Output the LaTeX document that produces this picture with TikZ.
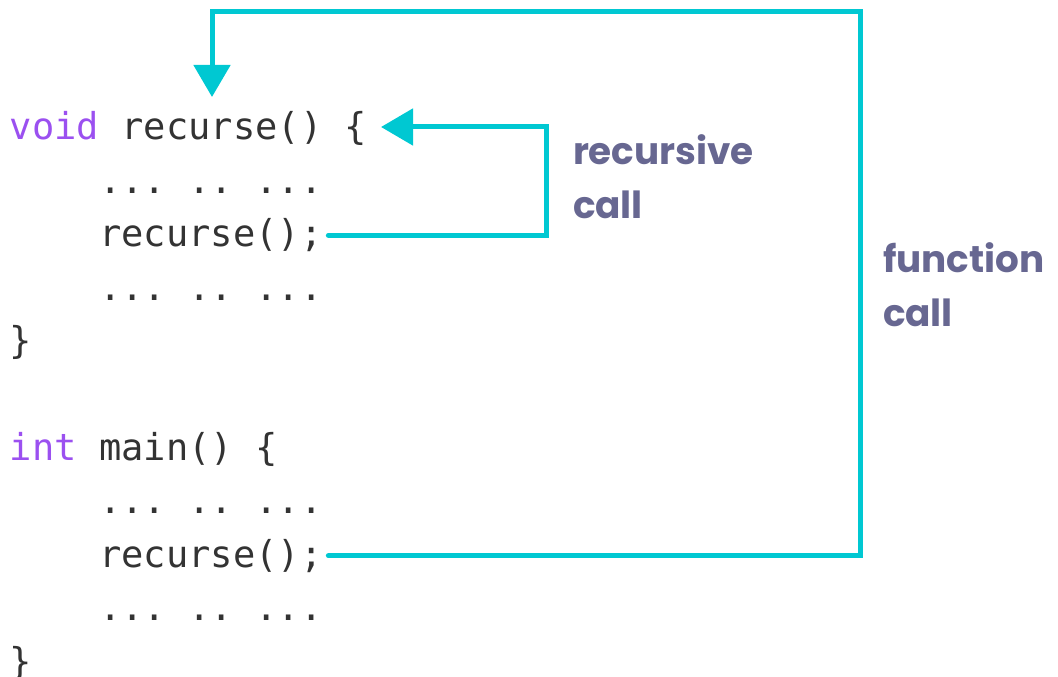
\documentclass[tikz,border=0pt]{standalone}
\usepackage{fontspec}
\setmonofont{DejaVu Sans Mono}
\newfontfamily\labfont{Poppins}
\usetikzlibrary{arrows.meta}
\definecolor{teal1}{RGB}{0,200,210}
\definecolor{kw}{RGB}{155,80,240}
\definecolor{codegray}{RGB}{51,51,51}
\definecolor{labcol}{RGB}{103,103,145}
\tikzset{
  code/.style={anchor=base west, inner sep=0pt, outer sep=0pt, text=codegray, font=\ttfamily\fontsize{27.8}{30}\selectfont},
  lab/.style={anchor=base west, inner sep=0pt, outer sep=0pt, text=labcol, font=\labfont\bfseries\fontsize{28}{30}\selectfont},
  conn/.style={draw=teal1, line width=3.75pt, line cap=round, -{Triangle[length=24pt,width=27pt]}},
}
\begin{document}
\begin{tikzpicture}[x=0.75pt,y=-0.75pt]
\useasboundingbox (0,0) rectangle (1058,677);
% code lines
\node[code] (l1) at (10,140) {\textcolor{kw}{void} recurse() \{};
\node[code] (d1) at (99.2,193.4) {... .. ...};
\node[code] (rc1) at (99.2,246.8) {recurse();};
\node[code] (d2) at (99.2,300.2) {... .. ...};
\node[code] (b1) at (10,353.6) {\}};
\node[code] (l2) at (10,460.4) {\textcolor{kw}{int} main() \{};
\node[code] (d3) at (99.2,513.8) {... .. ...};
\node[code] (rc2) at (99.2,567.2) {recurse();};
\node[code] (d4) at (99.2,620.6) {... .. ...};
\node[code] (b2) at (10,674) {\}};
% labels
\node[lab] (r1) at (573,165) {recursive};
\node[lab] (r2) at (573,219) {call};
\node[lab] (f1) at (883,273) {function};
\node[lab] (f2) at (883,327) {call};
% arrow targets
\coordinate (t1) at (381,127);
\coordinate (t2) at (212,97);
\coordinate (top) at (860,12);
% connectors
\draw[conn] ([xshift=4.5pt]rc1.east) -- ++(218,0) |- (t1);
\draw[conn] ([xshift=4.5pt]rc2.east) -| (top) -| (t2);
\end{tikzpicture}
\end{document}
